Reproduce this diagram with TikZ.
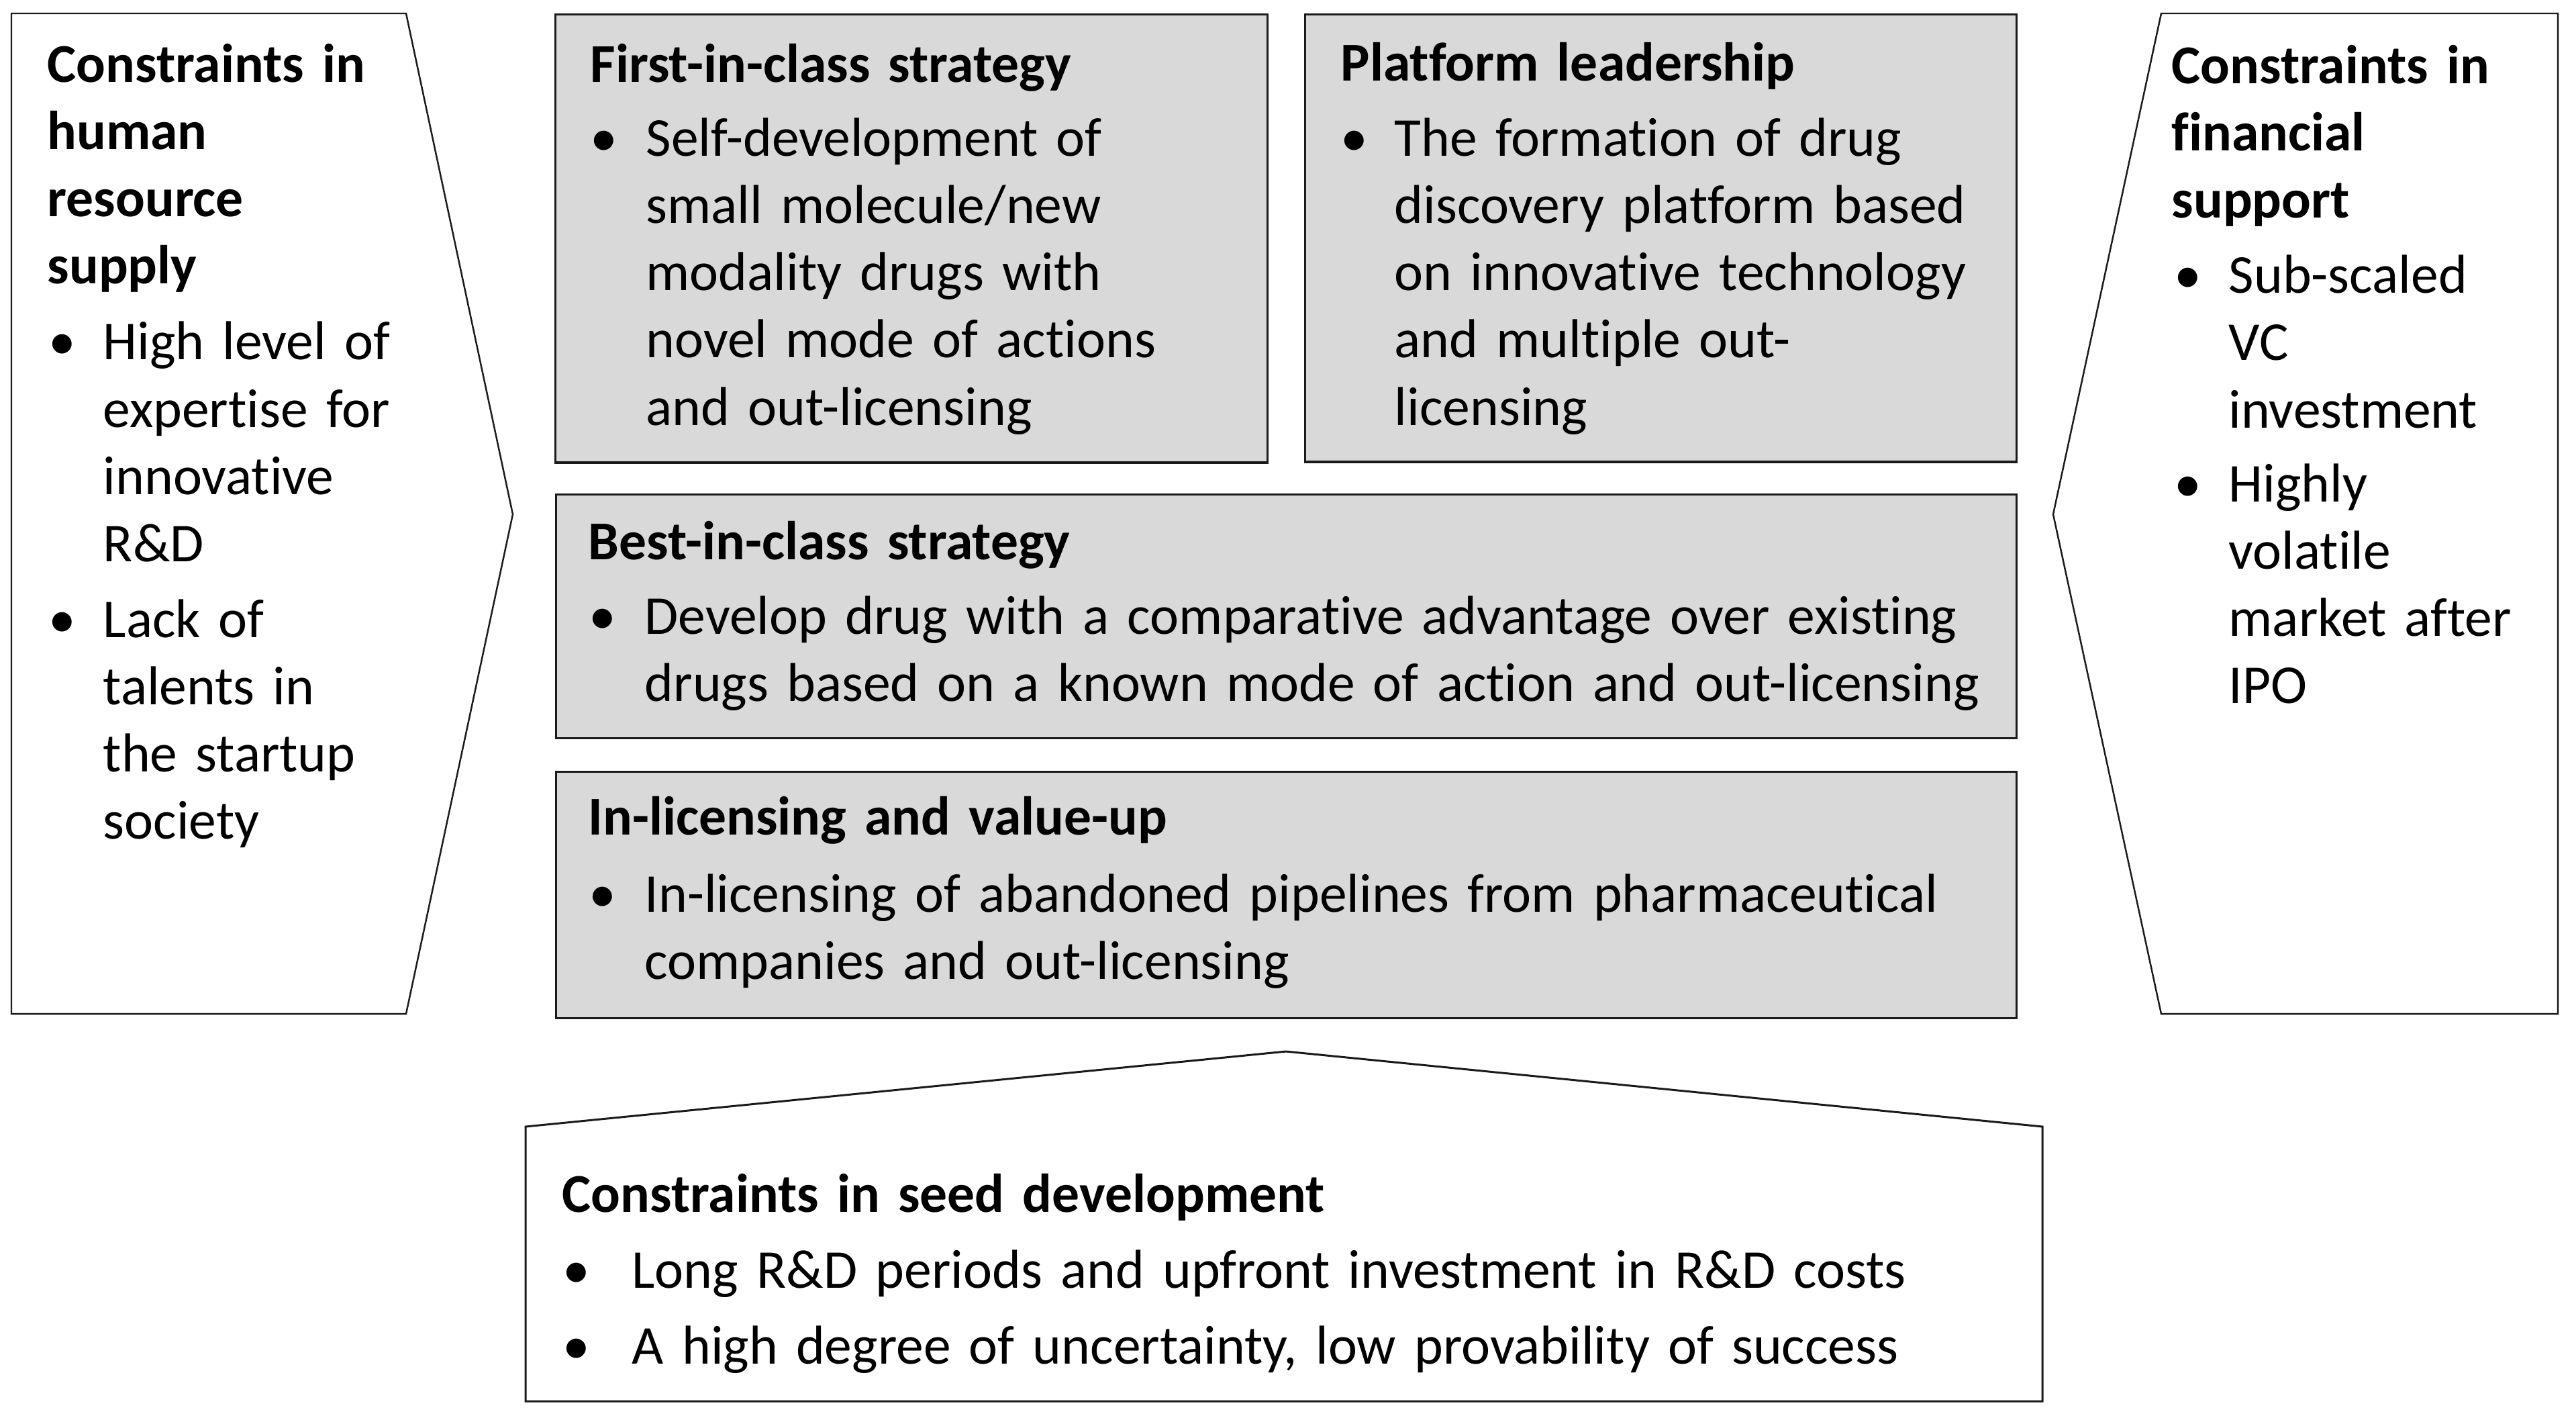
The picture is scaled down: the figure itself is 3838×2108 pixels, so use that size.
\documentclass[tikz,border=0pt]{standalone}
\usepackage{fontspec}
\setmainfont{Carlito}[Ligatures=NoCommon]
\definecolor{boxgray}{HTML}{D9D9D9}
\definecolor{edge}{HTML}{1A1A1A}
\newcommand{\hdl}[1]{\rule{0pt}{0.8cm}\textbf{#1}\par}
% #1 extra space, #2 text indent, #3 twice the bullet gap, #4 text
\newcommand{\bitem}[4]{\par\vspace{#1}\noindent\hangindent=#2\hangafter=0
  \llap{\makebox[#3][c]{\textbullet}\hspace{0pt}}#4\par}
\tikzset{
  strat/.style={draw=edge, line width=0.9pt, fill=boxgray},
  cons/.style={draw=edge, line width=0.7pt, fill=white},
  txt/.style={anchor=north west, inner sep=0pt, align=left, text width=#1,
    font=\fontsize{23.2pt}{28.45pt}\selectfont},
}
\begin{document}
\begin{tikzpicture}[x=0.01cm, y=-0.01cm]
\useasboundingbox (0,0) rectangle (3838,2108);
\fill[white] (0,0) rectangle (3838,2108);

% constraint shapes
\draw[cons] (17,20) -- (605,20) -- (764,766) -- (605,1510) -- (17,1510) -- cycle;
\draw[cons] (3059,766) -- (3220,20) -- (3811,20) -- (3811,1510) -- (3220,1510) -- cycle;
\draw[cons, line width=0.85pt] (783,1678) -- (1916,1566) -- (3043,1678) -- (3043,2087) -- (783,2087) -- cycle;

% strategy boxes
\node[strat, minimum width=10.60cm, minimum height=6.67cm, anchor=north west, inner sep=0pt] (first) at (826,20) {};
\node[strat, minimum width=10.59cm, minimum height=6.66cm, anchor=north west, inner sep=0pt] (platform) at (1943,20) {};
\node[strat, minimum width=21.75cm, minimum height=3.63cm, anchor=north west, inner sep=0pt] (best) at (827,735) {};
\node[strat, minimum width=21.75cm, minimum height=3.67cm, anchor=north west, inner sep=0pt] (inlic) at (827,1148) {};

% texts
\node[txt=6.5cm] (humantxt) at (70,42) {\hdl{Constraints in\\human\\resource\\supply}%
  \bitem{0.13cm}{0.83cm}{1.22cm}{High level of\newline expertise for\newline innovative\newline R\&D}%
  \bitem{0.13cm}{0.83cm}{1.22cm}{Lack of\newline talents in\newline the startup\newline society}};

\node[txt=5.6cm] (fintxt) at (3235,44) {\hdl{Constraints in\\financial\\support}%
  \bitem{0.12cm}{0.85cm}{1.22cm}{Sub-scaled\newline VC\newline investment}%
  \bitem{0.10cm}{0.85cm}{1.22cm}{Highly\newline volatile\newline market after\newline IPO}};

\node[txt=10cm] (firsttxt) at (879,42) {\hdl{First-in-class strategy}%
  \bitem{0.10cm}{0.83cm}{1.26cm}{Self-development of\newline small molecule/new\newline modality drugs with\newline novel mode of actions\newline and out-licensing}};

\node[txt=10cm] (platformtxt) at (1997,40) {\hdl{Platform leadership}%
  \bitem{0.12cm}{0.80cm}{1.20cm}{The formation of drug\newline discovery platform based\newline on innovative technology\newline and multiple out-\newline licensing}};

\node[txt=21cm] (besttxt) at (876,753) {\hdl{Best-in-class strategy}%
  \bitem{0.11cm}{0.84cm}{1.26cm}{Develop drug with a comparative advantage over existing\newline drugs based on a known mode of action and out-licensing}};

\node[txt=21cm] (inlictxt) at (876,1163) {\hdl{In-licensing and value-up}%
  \bitem{0.15cm}{0.84cm}{1.26cm}{In-licensing of abandoned pipelines from pharmaceutical\newline companies and out-licensing}};

\node[txt=21cm] (seedtxt) at (837,1725) {\hdl{Constraints in seed development}%
  \bitem{0.13cm}{1.04cm}{1.66cm}{Long R\&D periods and upfront investment in R\&D costs}%
  \bitem{0.13cm}{1.04cm}{1.66cm}{A high degree of uncertainty, low provability of success}};
\end{tikzpicture}
\end{document}
